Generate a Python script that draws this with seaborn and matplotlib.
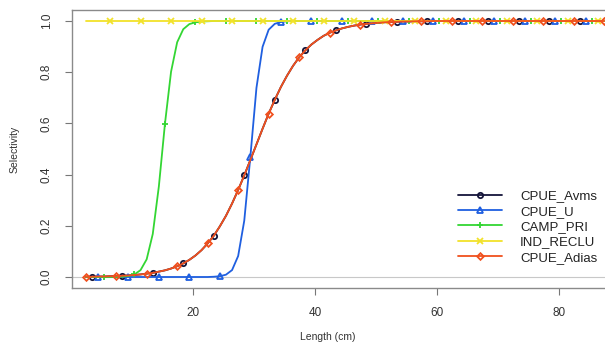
import matplotlib
matplotlib.use("Agg")
import matplotlib.pyplot as plt
import seaborn as sns
import pandas as pd

# Length classes (cm), 1-cm steps
length = [2.4, 3.4, 4.4, 5.4, 6.4, 7.4, 8.4, 9.4, 10.4, 11.4, 12.4, 13.4, 14.4, 15.4,
          16.4, 17.4, 18.4, 19.4, 20.4, 21.4, 22.4, 23.4, 24.4, 25.4, 26.4, 27.4, 28.4,
          29.4, 30.4, 31.4, 32.4, 33.4, 34.4, 35.4, 36.4, 37.4, 38.4, 39.4, 40.4, 41.4,
          42.4, 43.4, 44.4, 45.4, 46.4, 47.4, 48.4, 49.4, 50.4, 51.4, 52.4, 53.4, 54.4,
          55.4, 56.4, 57.4, 58.4, 59.4, 60.4, 61.4, 62.4, 63.4, 64.4, 65.4, 66.4, 67.4,
          68.4, 69.4, 70.4, 71.4, 72.4, 73.4, 74.4, 75.4, 76.4, 77.4, 78.4, 79.4, 80.4,
          81.4, 82.4, 83.4, 84.4, 85.4, 86.4, 87.4]

cpue_avms = [0.001, 0.001, 0.002, 0.002, 0.003, 0.004, 0.005, 0.006, 0.008, 0.010, 0.013,
             0.016, 0.021, 0.026, 0.033, 0.042, 0.053, 0.067, 0.084, 0.105, 0.131, 0.161,
             0.198, 0.239, 0.287, 0.340, 0.397, 0.457, 0.518, 0.579, 0.638, 0.692, 0.742,
             0.786, 0.825, 0.858, 0.885, 0.908, 0.926, 0.942, 0.954, 0.963, 0.971, 0.977,
             0.982, 0.986, 0.989, 0.991, 0.993, 0.995, 0.996, 0.997, 0.998, 0.998, 0.999,
             0.999, 0.999, 1.0, 1.0, 1.0, 1.0, 1.0, 1.0, 1.0, 1.0, 1.0, 1.0, 1.0, 1.0, 1.0,
             1.0, 1.0, 1.0, 1.0, 1.0, 1.0, 1.0, 1.0, 1.0, 1.0, 1.0, 1.0, 1.0, 1.0, 1.0, 1.0]

cpue_u = [0.0, 0.0, 0.0, 0.0, 0.0, 0.0, 0.0, 0.0, 0.0, 0.0, 0.0, 0.0, 0.0, 0.0, 0.0, 0.0,
          0.0, 0.0, 0.0, 0.0, 0.0, 0.001, 0.003, 0.009, 0.027, 0.082, 0.22, 0.47, 0.739,
          0.899, 0.966, 0.989, 0.996, 0.999, 1.0, 1.0, 1.0, 1.0, 1.0, 1.0, 1.0, 1.0, 1.0,
          1.0, 1.0, 1.0, 1.0, 1.0, 1.0, 1.0, 1.0, 1.0, 1.0, 1.0, 1.0, 1.0, 1.0, 1.0, 1.0,
          1.0, 1.0, 1.0, 1.0, 1.0, 1.0, 1.0, 1.0, 1.0, 1.0, 1.0, 1.0, 1.0, 1.0, 1.0, 1.0,
          1.0, 1.0, 1.0, 1.0, 1.0, 1.0, 1.0, 1.0, 1.0, 1.0, 1.0]

camp_pri = [0.0, 0.0, 0.0, 0.0, 0.0, 0.0, 0.001, 0.004, 0.010, 0.027, 0.069, 0.168, 0.354,
            0.599, 0.802, 0.917, 0.968, 0.988, 0.995, 0.998, 0.999, 1.0, 1.0, 1.0, 1.0,
            1.0, 1.0, 1.0, 1.0, 1.0, 1.0, 1.0, 1.0, 1.0, 1.0, 1.0, 1.0, 1.0, 1.0, 1.0, 1.0,
            1.0, 1.0, 1.0, 1.0, 1.0, 1.0, 1.0, 1.0, 1.0, 1.0, 1.0, 1.0, 1.0, 1.0, 1.0, 1.0,
            1.0, 1.0, 1.0, 1.0, 1.0, 1.0, 1.0, 1.0, 1.0, 1.0, 1.0, 1.0, 1.0, 1.0, 1.0, 1.0,
            1.0, 1.0, 1.0, 1.0, 1.0, 1.0, 1.0, 1.0, 1.0, 1.0, 1.0, 1.0, 1.0]

ind_reclu = [1.0, 1.0, 1.0, 1.0, 1.0, 1.0, 1.0, 1.0, 1.0, 1.0, 1.0, 1.0, 1.0, 1.0, 1.0, 1.0,
             1.0, 1.0, 1.0, 1.0, 1.0, 1.0, 1.0, 1.0, 1.0, 1.0, 1.0, 1.0, 1.0, 1.0, 1.0, 1.0,
             1.0, 1.0, 1.0, 1.0, 1.0, 1.0, 1.0, 1.0, 1.0, 1.0, 1.0, 1.0, 1.0, 1.0, 1.0, 1.0,
             1.0, 1.0, 1.0, 1.0, 1.0, 1.0, 1.0, 1.0, 1.0, 1.0, 1.0, 1.0, 1.0, 1.0, 1.0, 1.0,
             1.0, 1.0, 1.0, 1.0, 1.0, 1.0, 1.0, 1.0, 1.0, 1.0, 1.0, 1.0, 1.0, 1.0, 1.0, 1.0,
             1.0, 1.0, 1.0, 1.0, 1.0, 1.0]

cpue_adias = [0.001, 0.001, 0.002, 0.002, 0.003, 0.004, 0.005, 0.006, 0.008, 0.010, 0.013,
              0.016, 0.021, 0.026, 0.033, 0.042, 0.053, 0.067, 0.084, 0.105, 0.131, 0.161,
              0.198, 0.239, 0.287, 0.340, 0.397, 0.457, 0.518, 0.579, 0.638, 0.692, 0.742,
              0.786, 0.825, 0.858, 0.885, 0.908, 0.926, 0.942, 0.954, 0.963, 0.971, 0.977,
              0.982, 0.986, 0.989, 0.991, 0.993, 0.995, 0.996, 0.997, 0.998, 0.998, 0.999,
              0.999, 0.999, 1.0, 1.0, 1.0, 1.0, 1.0, 1.0, 1.0, 1.0, 1.0, 1.0, 1.0, 1.0, 1.0,
              1.0, 1.0, 1.0, 1.0, 1.0, 1.0, 1.0, 1.0, 1.0, 1.0, 1.0, 1.0, 1.0, 1.0, 1.0, 1.0]

series_names = ["CPUE_Avms", "CPUE_U", "CAMP_PRI", "IND_RECLU", "CPUE_Adias"]
series_values = [cpue_avms, cpue_u, camp_pri, ind_reclu, cpue_adias]
x_ticks = [20, 40, 60, 80]
y_ticks = [0.0, 0.2, 0.4, 0.6, 0.8, 1.0]

colors = ["#15153a", "#1f5fe0", "#33d633", "#f2e22a", "#f0501e"]
markers = ["o", "^", "+", "x", "D"]
mark_offset = [1, 2, 3, 4, 0]
filled = [False, False, True, True, False]

sns.set_theme(style="ticks")
plt.rcParams["font.family"] = ["Liberation Sans", "DejaVu Sans"]

fig = plt.figure(figsize=(6.05, 3.56), dpi=100)
ax = fig.add_axes([72 / 605, 1 - 288 / 356, (613 - 72) / 605, (288 - 10) / 356])

ax.axhline(0, color="#c8c8c8", lw=0.8, zorder=0)

for name, vals, c, m, off, fl in zip(series_names, series_values, colors, markers,
                                      mark_offset, filled):
    df = pd.DataFrame({"Length": length, "Sel": vals})
    kw = dict(marker=m, markevery=(off, 5), markersize=3.8 if m != "D" else 3.4,
              markeredgewidth=1.3, markeredgecolor=c)
    if not fl:
        kw["markerfacecolor"] = "none"
    sns.lineplot(data=df, x="Length", y="Sel", color=c, lw=1.3, ax=ax, label=name,
                 **kw)

ax.set_xlim(0.16, 88.85)
ax.set_ylim(-0.043, 1.043)
ax.set_xticks(x_ticks)
ax.set_yticks(y_ticks)
ax.set_xticklabels([str(v) for v in x_ticks], fontsize=8.5, color="#333333")
ax.set_yticklabels([f"{v:.1f}" for v in y_ticks], fontsize=8.5, color="#333333",
                   rotation=90, va="center")
ax.tick_params(axis="both", direction="out", length=5, width=0.8, color="#777777")
ax.tick_params(axis="x", pad=9)
ax.tick_params(axis="y", pad=9)
for s in ax.spines.values():
    s.set_visible(True)
    s.set_color("#8a8a8a")
    s.set_linewidth(1.0)
ax.set_xlabel("Length (cm)", fontsize=7.5, color="#333333")
ax.set_ylabel("Selectivity", fontsize=7.5, color="#333333")
ax.xaxis.set_label_coords((328 - 72) / 541, -(332 - 288) / 278)
ax.yaxis.set_label_coords(-(72 - 20) / 541, 0.5)
ax.grid(False)

leg = ax.legend(loc="upper left", bbox_to_anchor=(458 / 605, 1 - 190 / 356),
                bbox_transform=fig.transFigure, frameon=False, fontsize=9.5,
                handlelength=3.3, handletextpad=1.4, labelspacing=0.24,
                borderpad=0, borderaxespad=0)
for t in leg.get_texts():
    t.set_color("#222222")

fig.savefig("out.png", dpi=100)
